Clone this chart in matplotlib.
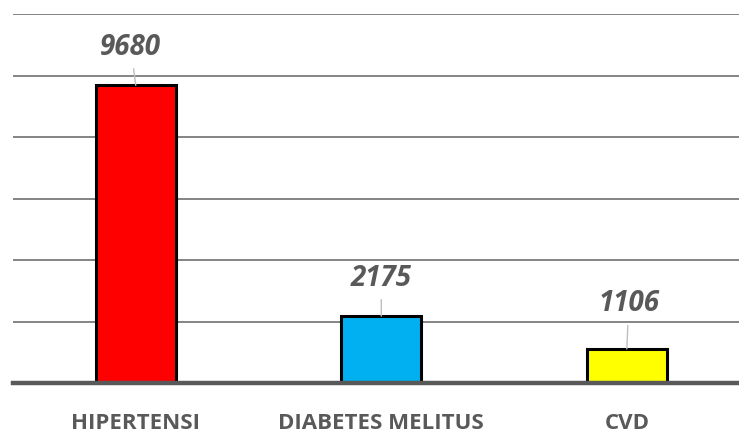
import matplotlib
matplotlib.use("Agg")
import matplotlib.pyplot as plt

# data
categories = ["HIPERTENSI", "DIABETES MELITUS", "CVD"]
values = [9680, 2175, 1106]
bar_colors = ["#ff0000", "#00b0f0", "#ffff00"]
# label offsets (pixels) from bar top: (dx, dy)
label_offsets = [(-5, 38), (0, 38), (2, 45)]

text_color = "#595959"
plt.rcParams["font.family"] = ["Open Sans", "DejaVu Sans"]

fig = plt.figure(figsize=(7.39, 4.34), dpi=100)
ax = fig.add_axes([13 / 739, 51 / 434, 726 / 739, 369 / 434])

x = range(len(categories))
ax.bar(x, values, width=0.326, color=bar_colors, edgecolor="black",
       linewidth=2.2, zorder=3)

ax.set_ylim(0, 12000)
ax.set_xlim(-0.5, 2.457)
ax.set_yticks(range(0, 12001, 2000))
ax.yaxis.grid(True, color="#6f6f6f", linewidth=1.2, zorder=0)
ax.set_axisbelow(True)
ax.tick_params(axis="y", left=False, labelleft=False)
ax.tick_params(axis="x", bottom=False, pad=18)
ax.set_xticks(list(x))
ax.set_xticklabels(categories, fontsize=16, fontweight="bold", color=text_color)

for s in ["left", "right", "top"]:
    ax.spines[s].set_visible(False)
ax.spines["bottom"].set_color("#595959")
ax.spines["bottom"].set_linewidth(3.2)
ax.spines["bottom"].set_zorder(4)

for xi, v, (dx, dy) in zip(x, values, label_offsets):
    ax.annotate(str(v), xy=(xi, v), xytext=(dx, dy), textcoords="offset pixels",
                ha="center", va="center", fontsize=20, fontweight="bold",
                fontstyle="italic", color=text_color,
                arrowprops=dict(arrowstyle="-", color="#bfbfbf", lw=1.0,
                                shrinkA=3, shrinkB=0))

fig.savefig("out.png", dpi=100)
